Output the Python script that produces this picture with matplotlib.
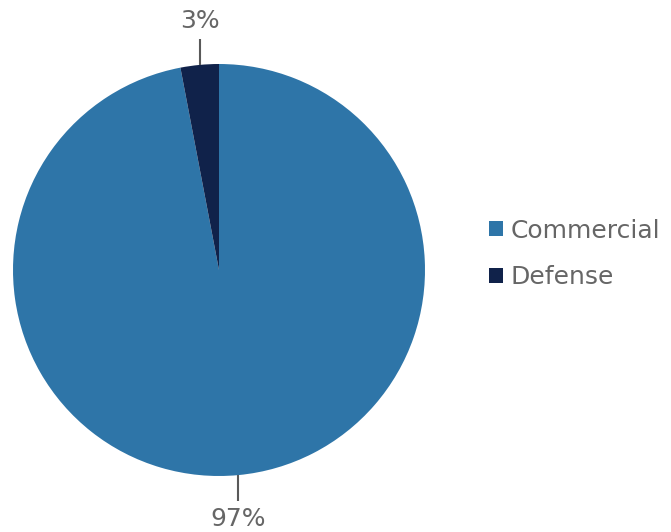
import numpy as np
import matplotlib.pyplot as plt

# Share of market by segment
labels = ['Commercial', 'Defense']
shares = [97, 3]
colors = ['#2E75A8', '#10224A']
text_color = '#666666'

W, H = 671, 532
fig = plt.figure(figsize=(W / 100, H / 100), dpi=100)

# pie centre (219, 270) px, radius 206 px
cx, cy, r = 219, 270, 206
ax = fig.add_axes([(cx - r) / W, (H - cy - r) / H, 2 * r / W, 2 * r / H])

wedges, _ = ax.pie(shares, colors=colors, startangle=90, counterclock=False,
                   radius=1.0, wedgeprops=dict(linewidth=0))
ax.set_xlim(-1, 1)
ax.set_ylim(-1, 1)
ax.set_aspect('auto')
ax.axis('off')

# outside labels with short leader lines
for w, val in zip(wedges, shares):
    mid = np.deg2rad((w.theta1 + w.theta2) / 2)
    x = np.cos(mid)
    up = np.sign(np.sin(mid))
    ax.plot([x, x], [np.sin(mid), up * 1.12], color='#595959', lw=1.5,
            clip_on=False, solid_capstyle='butt')
    ax.text(x, up * 1.21, f'{val}%', ha='center', va='center', fontsize=18,
            color=text_color, clip_on=False)

leg = fig.legend(wedges, labels, loc='center left', bbox_to_anchor=(467 / W, 1 - 254 / H),
                 frameon=False, fontsize=18, handlelength=0.55, handleheight=0.55,
                 handletextpad=0.3, labelspacing=0.9, labelcolor=text_color)

fig.savefig('out.png', dpi=100)
